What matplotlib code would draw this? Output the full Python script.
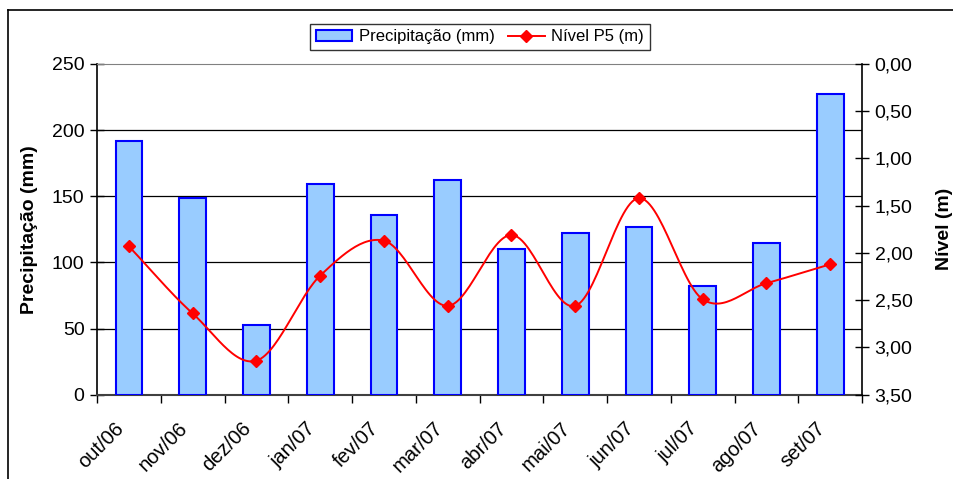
import numpy as np
import matplotlib
matplotlib.use("Agg")
import matplotlib.pyplot as plt
from matplotlib.lines import Line2D
from matplotlib.patches import Patch
from matplotlib.ticker import FixedLocator, FuncFormatter
from matplotlib.transforms import ScaledTranslation

plt.rcParams['font.family'] = ['Liberation Sans', 'DejaVu Sans']

meses = ["out/06", "nov/06", "dez/06", "jan/07", "fev/07", "mar/07",
         "abr/07", "mai/07", "jun/07", "jul/07", "ago/07", "set/07"]
precipitacao = [192, 149, 53, 159, 136, 162, 110, 122, 127, 82, 115, 227]
nivel_p5 = [1.93, 2.64, 3.14, 2.24, 1.87, 2.56, 1.81, 2.56, 1.42, 2.49, 2.32, 2.12]


def curva_suave(x, y, n=30):
    """Catmull-Rom curve through the points (smoothed line style)."""
    x = np.asarray(x, float)
    y = np.asarray(y, float)
    px = np.concatenate([[2 * x[0] - x[1]], x, [2 * x[-1] - x[-2]]])
    py = np.concatenate([[2 * y[0] - y[1]], y, [2 * y[-1] - y[-2]]])
    xs, ys = [], []
    t = np.linspace(0, 1, n)
    for i in range(1, len(px) - 2):
        p0, p1, p2, p3 = (np.array([px[j], py[j]]) for j in (i - 1, i, i + 1, i + 2))
        c1 = p1 + (p2 - p0) / 6
        c2 = p2 - (p3 - p1) / 6
        b = ((1 - t) ** 3)[:, None] * p1 + (3 * (1 - t) ** 2 * t)[:, None] * c1 \
            + (3 * (1 - t) * t ** 2)[:, None] * c2 + (t ** 3)[:, None] * p2
        xs.extend(b[:, 0])
        ys.extend(b[:, 1])
    return np.array(xs), np.array(ys)


fig = plt.figure(figsize=(9.54, 4.79), dpi=100)
ax = fig.add_axes([0.1017, 0.176, 0.8019, 0.6904])
ax2 = ax.twinx()

x = np.arange(len(meses)) + 0.5
ax.bar(x, precipitacao, width=0.42, color="#99CCFF", edgecolor="#0000FF",
       linewidth=1.5, zorder=3)
ax.set_xlim(0, len(meses))
ax.set_ylim(0, 250)
ax.yaxis.set_major_locator(FixedLocator([0, 50, 100, 150, 200, 250]))
for v in [50, 100, 150, 200]:
    ax.axhline(v, color="#000000", linewidth=0.9, zorder=1)

ax.set_xticks(x)
ax.set_xticklabels(meses, rotation=45, ha="right", va="center",
                   rotation_mode="anchor", fontsize=14.5)
ax.tick_params(axis="x", length=0, pad=22)
shift = ScaledTranslation(-8 / 100, 0, fig.dpi_scale_trans)
for lab in ax.get_xticklabels():
    lab.set_transform(lab.get_transform() + shift)
ax.set_xticks(np.arange(len(meses) + 1), minor=True)
ax.tick_params(axis="x", which="minor", length=6, direction="out",
               width=1, color="black")
ax.tick_params(axis="y", length=10, direction="inout", width=1, labelsize=14,
               pad=4)

ax.spines["top"].set_color("#808080")
ax.spines["right"].set_visible(False)
ax.spines["left"].set_linewidth(1.2)
ax.spines["bottom"].set_color("#404040")
ax.spines["bottom"].set_linewidth(1.5)

ax2.set_ylim(3.5, 0)
ax2.yaxis.set_major_locator(FixedLocator(np.arange(0, 3.51, 0.5)))
ax2.yaxis.set_major_formatter(FuncFormatter(lambda v, p: f"{v:.2f}".replace(".", ",")))
ax2.tick_params(axis="y", length=10, direction="inout", width=1, labelsize=14,
                pad=4)
ax2.spines["right"].set_linewidth(1.2)
for s in ("top", "left", "bottom"):
    ax2.spines[s].set_visible(False)

cx, cy = curva_suave(x, nivel_p5)
ax2.plot(cx, cy, color="#FF0000", linewidth=1.4, zorder=4)
ax2.plot(x, nivel_p5, linestyle="none", marker="D", markersize=6,
         color="#FF0000", zorder=5)

ax.set_ylabel("Precipitação (mm)", fontsize=14, fontweight="bold", labelpad=10)
ax2.set_ylabel("Nível (m)", fontsize=14, fontweight="bold", rotation=90,
               labelpad=17)

handles = [Patch(facecolor="#99CCFF", edgecolor="#0000FF", linewidth=1.5),
           Line2D([0], [0], color="#FF0000", linewidth=1.4, marker="D",
                  markersize=6)]
leg = fig.legend(handles, ["Precipitação (mm)", "Nível P5 (m)"], ncol=2,
                 loc="center", bbox_to_anchor=(0.503, 0.923), fontsize=12,
                 frameon=True, fancybox=False, edgecolor="#000000",
                 handlelength=2.2, handletextpad=0.4, columnspacing=0.8,
                 borderpad=0.35)
leg.get_frame().set_linewidth(1.0)

# outer chart-area border (left and top edges)
fig.add_artist(Line2D([8 / 954, 8 / 954], [0, 1 - 10 / 479], color="black",
                      linewidth=1.2, transform=fig.transFigure))
fig.add_artist(Line2D([8 / 954, 1], [1 - 10 / 479, 1 - 10 / 479], color="black",
                      linewidth=1.2, transform=fig.transFigure))

fig.savefig("out.png", dpi=100, facecolor="white")
